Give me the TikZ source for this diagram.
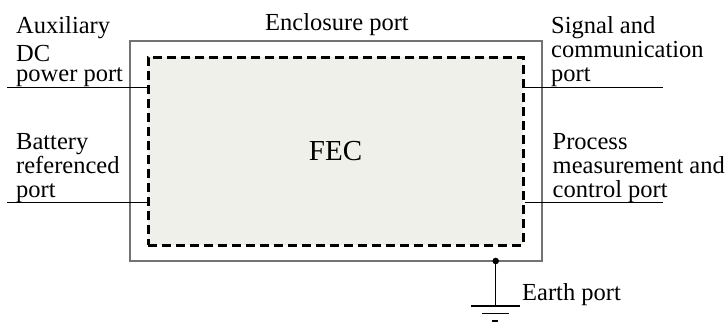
\documentclass[tikz,border=0pt]{standalone}
\usepackage{fontspec}
\setmainfont{Liberation Serif}
\begin{document}
\begin{tikzpicture}[x=1pt,y=-1pt,
  lbl/.style={anchor=base west,inner sep=0pt,font=\fontsize{24.5}{25}\selectfont},
  thinline/.style={draw=black,line width=1pt},
  enclbox/.style={draw=black!55,line width=1.1pt,minimum width=412pt,minimum height=220pt,inner sep=0pt},
  fecbox/.style={draw=black,line width=3pt,dash pattern=on 9pt off 5pt,fill={rgb,255:red,240;green,240;blue,234},
    minimum width=375pt,minimum height=188pt,inner sep=0pt,font=\fontsize{29}{30}\selectfont}]
\useasboundingbox (0,0) rectangle (728,322);
\node[enclbox] (encl) at (336,151) {};
\node[fecbox] (fec) at (335.5,151) {FEC};
% left labels
\node[lbl] (aux1) at (16,33) {Auxiliary};
\node[lbl] (aux2) at (16,61) {DC};
\node[lbl] (aux3) at (16,81) {power port};
\node[lbl] (bat1) at (16,149) {Battery};
\node[lbl] (bat2) at (16,173) {referenced};
\node[lbl] (bat3) at (16,197) {port};
% top label
\node[lbl] (enc) at (265,30) {Enclosure port};
% right labels
\node[lbl] (sig1) at (551,33) {Signal and};
\node[lbl] (sig2) at (551,57) {communication};
\node[lbl] (sig3) at (551,81) {port};
\node[lbl] (pro1) at (552.5,149) {Process};
\node[lbl] (pro2) at (552.5,173) {measurement and};
\node[lbl] (pro3) at (552.5,197) {control port};
% port lines
\coordinate (l1) at (7,87.5);
\coordinate (l2) at (7,202);
\coordinate (r1) at (663,87.5);
\coordinate (r2) at (663,202);
\draw[thinline] (l1) -- (l1 -| fec.west);
\draw[thinline] (l2) -- (l2 -| fec.west);
\draw[thinline] (fec.east |- r1) -- (r1);
\draw[thinline] (fec.east |- r2) -- (r2);
% earth
\coordinate (ep) at (495.7,261);
\coordinate (gnd) at (495.7,306);
\fill (ep) circle (3.3);
\draw[thinline] (ep) -- (gnd);
\draw[line width=1.5pt] ([xshift=-25pt]gnd) -- ([xshift=24pt]gnd);
\draw[line width=1.5pt] ([xshift=-14pt,yshift=-7.5pt]gnd) -- ([xshift=13pt,yshift=-7.5pt]gnd);
\draw[line width=1.5pt] ([xshift=-4pt,yshift=-15pt]gnd) -- ([xshift=2pt,yshift=-15pt]gnd);
\node[lbl] (earth) at (522,300) {Earth port};
\end{tikzpicture}
\end{document}
